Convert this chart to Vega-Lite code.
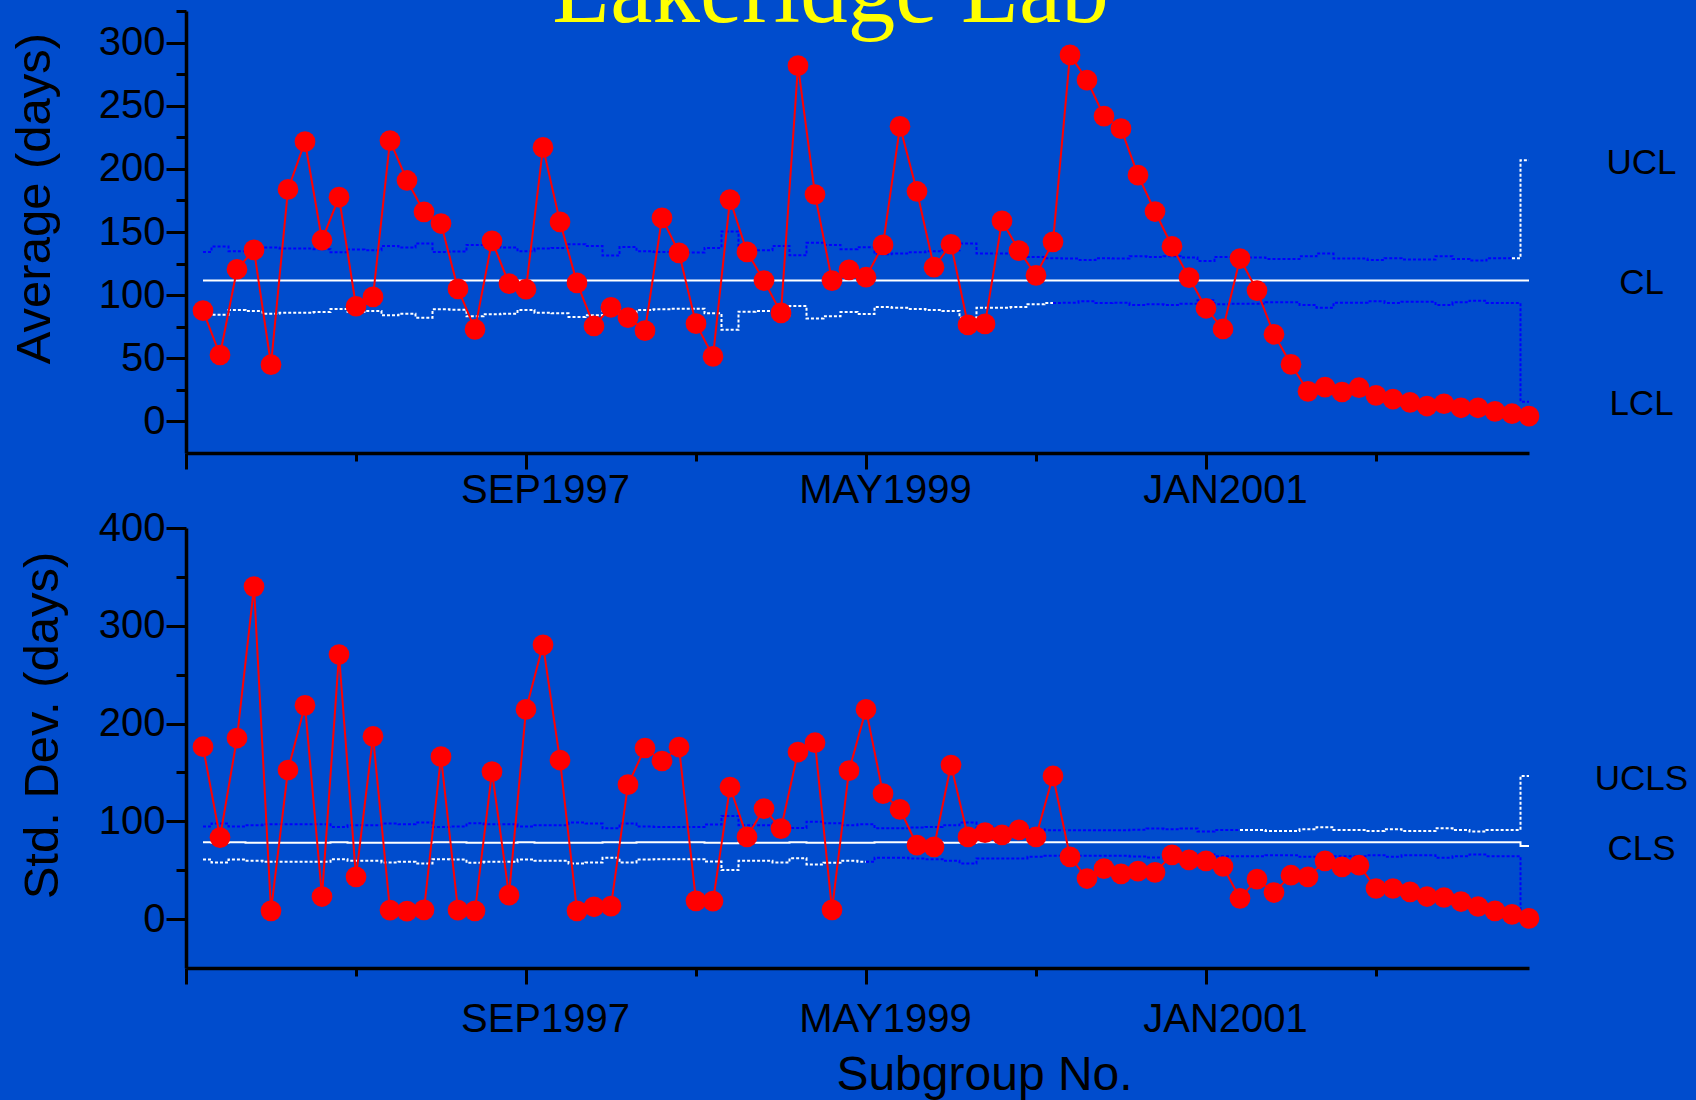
{
  "$schema": "https://vega.github.io/schema/vega-lite/v6.json",
  "background": "#004CCD",
  "padding": {"left": 10, "top": -54, "right": 345, "bottom": 135},
  "title": {"text": "Lakeridge Lab", "font": "Liberation Serif", "fontSize": 95, "fontWeight": "normal", "color": "#ffff00", "anchor": "middle", "frame": "group", "offset": -126, "baseline": "alphabetic", "dx": -27},
  "bounds": "flush",
  "spacing": 75,
  "datasets": {
    "sub": [
      {"i":1,"mean":87.7,"sd":176.3},{"i":2,"mean":52.6,"sd":83.4},{"i":3,"mean":120.5,"sd":185.2},{"i":4,"mean":135.8,"sd":340.1},{"i":5,"mean":44.9,"sd":8.5},
      {"i":6,"mean":183.7,"sd":152.5},{"i":7,"mean":221.5,"sd":218.6},{"i":8,"mean":143.5,"sd":23.1},{"i":9,"mean":177.6,"sd":270.6},{"i":10,"mean":91.2,"sd":43.2},
      {"i":11,"mean":98.6,"sd":186.9},{"i":12,"mean":222.3,"sd":9.2},{"i":13,"mean":190.8,"sd":8.2},{"i":14,"mean":166.0,"sd":9.5},{"i":15,"mean":156.7,"sd":166.1},
      {"i":16,"mean":104.9,"sd":9.2},{"i":17,"mean":72.9,"sd":8.5},{"i":18,"mean":143.0,"sd":150.8},{"i":19,"mean":109.1,"sd":24.5},{"i":20,"mean":104.7,"sd":214.5},
      {"i":21,"mean":217.0,"sd":280.5},{"i":22,"mean":158.0,"sd":162.7},{"i":23,"mean":109.7,"sd":8.5},{"i":24,"mean":75.6,"sd":12.6},{"i":25,"mean":90.4,"sd":13.3},
      {"i":26,"mean":82.2,"sd":137.5},{"i":27,"mean":71.9,"sd":175.0},{"i":28,"mean":161.2,"sd":161.7},{"i":29,"mean":133.5,"sd":176.0},{"i":30,"mean":77.4,"sd":18.7},
      {"i":31,"mean":51.5,"sd":18.4},{"i":32,"mean":175.7,"sd":135.1},{"i":33,"mean":134.2,"sd":84.1},{"i":34,"mean":111.5,"sd":113.0},{"i":35,"mean":85.9,"sd":92.6},
      {"i":36,"mean":281.7,"sd":170.9},{"i":37,"mean":179.7,"sd":180.4},{"i":38,"mean":111.5,"sd":9.5},{"i":39,"mean":120.0,"sd":151.8},{"i":40,"mean":114.2,"sd":214.5},
      {"i":41,"mean":139.8,"sd":128.3},{"i":42,"mean":233.6,"sd":112.3},{"i":43,"mean":182.1,"sd":75.6},{"i":44,"mean":122.1,"sd":73.9},{"i":45,"mean":140.3,"sd":157.6},
      {"i":46,"mean":76.4,"sd":84.1},{"i":47,"mean":77.2,"sd":88.5},{"i":48,"mean":158.8,"sd":86.1},{"i":49,"mean":135.3,"sd":91.2},{"i":50,"mean":115.7,"sd":84.1},
      {"i":51,"mean":142.2,"sd":146.4},{"i":52,"mean":290.2,"sd":63.7},{"i":53,"mean":270.3,"sd":41.5},{"i":54,"mean":241.8,"sd":51.7},{"i":55,"mean":231.8,"sd":46.3},
      {"i":56,"mean":195.0,"sd":49.0},{"i":57,"mean":166.2,"sd":47.7},{"i":58,"mean":138.7,"sd":65.7},{"i":59,"mean":113.9,"sd":60.6},{"i":60,"mean":89.6,"sd":59.6},
      {"i":61,"mean":73.2,"sd":53.8},{"i":62,"mean":129.0,"sd":21.1},{"i":63,"mean":103.6,"sd":40.9},{"i":64,"mean":69.0,"sd":27.2},{"i":65,"mean":45.2,"sd":44.9},
      {"i":66,"mean":23.8,"sd":43.2},{"i":67,"mean":27.2,"sd":59.6},{"i":68,"mean":23.3,"sd":53.4},{"i":69,"mean":26.7,"sd":55.1},{"i":70,"mean":20.6,"sd":31.3},
      {"i":71,"mean":17.7,"sd":31.3},{"i":72,"mean":15.1,"sd":27.9},{"i":73,"mean":12.2,"sd":23.1},{"i":74,"mean":14.0,"sd":22.1},{"i":75,"mean":10.8,"sd":18.0},
      {"i":76,"mean":10.8,"sd":12.9},{"i":77,"mean":7.9,"sd":8.5},{"i":78,"mean":6.1,"sd":4.8},{"i":79,"mean":4.2,"sd":0.7}
    ],
    "lim": [
      {"i":1,"ucl":134.2,"lcl":88.8,"cl":111.5,"ucls":94.6,"lcls":61.0,"cls":78.7},
      {"i":2,"ucl":138.5,"lcl":84.5,"cl":111.5,"ucls":97.7,"lcls":57.9,"cls":78.2},
      {"i":3,"ucl":134.8,"lcl":88.2,"cl":111.5,"ucls":94.6,"lcls":61.0,"cls":78.7},
      {"i":4,"ucl":135.6,"lcl":87.4,"cl":111.5,"ucls":96.0,"lcls":59.6,"cls":78.2},
      {"i":5,"ucl":137.7,"lcl":85.3,"cl":111.5,"ucls":97.0,"lcls":58.6,"cls":78.2},
      {"i":6,"ucl":136.9,"lcl":86.1,"cl":111.5,"ucls":97.0,"lcls":58.6,"cls":78.2},
      {"i":7,"ucl":136.9,"lcl":86.1,"cl":111.5,"ucls":97.0,"lcls":58.6,"cls":78.2},
      {"i":8,"ucl":136.4,"lcl":86.6,"cl":111.5,"ucls":97.0,"lcls":58.6,"cls":78.2},
      {"i":9,"ucl":134.0,"lcl":89.0,"cl":111.5,"ucls":94.3,"lcls":61.3,"cls":78.7},
      {"i":10,"ucl":136.1,"lcl":86.9,"cl":111.5,"ucls":96.0,"lcls":59.6,"cls":78.2},
      {"i":11,"ucl":135.6,"lcl":87.4,"cl":111.5,"ucls":96.0,"lcls":59.6,"cls":78.2},
      {"i":12,"ucl":139.0,"lcl":84.0,"cl":111.5,"ucls":97.7,"lcls":57.9,"cls":78.2},
      {"i":13,"ucl":137.7,"lcl":85.3,"cl":111.5,"ucls":97.0,"lcls":58.6,"cls":78.2},
      {"i":14,"ucl":140.9,"lcl":82.1,"cl":111.5,"ucls":98.7,"lcls":56.9,"cls":78.2},
      {"i":15,"ucl":134.2,"lcl":88.8,"cl":111.5,"ucls":94.3,"lcls":61.3,"cls":78.7},
      {"i":16,"ucl":134.5,"lcl":88.5,"cl":111.5,"ucls":94.6,"lcls":61.0,"cls":78.7},
      {"i":17,"ucl":139.8,"lcl":83.2,"cl":111.5,"ucls":98.0,"lcls":57.6,"cls":78.2},
      {"i":18,"ucl":138.2,"lcl":84.8,"cl":111.5,"ucls":97.0,"lcls":58.6,"cls":78.2},
      {"i":19,"ucl":137.7,"lcl":85.3,"cl":111.5,"ucls":97.0,"lcls":58.6,"cls":78.2},
      {"i":20,"ucl":134.8,"lcl":88.2,"cl":111.5,"ucls":94.6,"lcls":61.0,"cls":78.7},
      {"i":21,"ucl":136.9,"lcl":86.1,"cl":111.5,"ucls":96.0,"lcls":59.6,"cls":78.2},
      {"i":22,"ucl":137.4,"lcl":85.6,"cl":111.5,"ucls":96.0,"lcls":59.6,"cls":78.2},
      {"i":23,"ucl":140.3,"lcl":82.7,"cl":111.5,"ucls":98.7,"lcls":56.9,"cls":78.2},
      {"i":24,"ucl":139.0,"lcl":84.0,"cl":111.5,"ucls":97.7,"lcls":57.9,"cls":78.2},
      {"i":25,"ucl":131.3,"lcl":91.7,"cl":111.5,"ucls":92.9,"lcls":62.7,"cls":78.7},
      {"i":26,"ucl":138.2,"lcl":84.8,"cl":111.5,"ucls":97.7,"lcls":57.9,"cls":78.2},
      {"i":27,"ucl":134.8,"lcl":88.2,"cl":111.5,"ucls":94.6,"lcls":61.0,"cls":78.7},
      {"i":28,"ucl":134.2,"lcl":88.8,"cl":111.5,"ucls":94.3,"lcls":61.3,"cls":78.7},
      {"i":29,"ucl":133.7,"lcl":89.3,"cl":111.5,"ucls":94.3,"lcls":61.3,"cls":78.7},
      {"i":30,"ucl":133.7,"lcl":89.3,"cl":111.5,"ucls":94.3,"lcls":61.3,"cls":78.7},
      {"i":31,"ucl":137.4,"lcl":85.6,"cl":111.5,"ucls":96.7,"lcls":58.9,"cls":78.2},
      {"i":32,"ucl":150.4,"lcl":72.6,"cl":111.5,"ucls":105.5,"lcls":50.1,"cls":77.7},
      {"i":33,"ucl":136.1,"lcl":86.9,"cl":111.5,"ucls":96.0,"lcls":59.6,"cls":78.2},
      {"i":34,"ucl":135.6,"lcl":87.4,"cl":111.5,"ucls":96.0,"lcls":59.6,"cls":78.2},
      {"i":35,"ucl":139.0,"lcl":84.0,"cl":111.5,"ucls":97.7,"lcls":57.9,"cls":78.2},
      {"i":36,"ucl":131.6,"lcl":91.4,"cl":111.5,"ucls":93.3,"lcls":62.3,"cls":78.7},
      {"i":37,"ucl":141.4,"lcl":81.6,"cl":111.5,"ucls":99.7,"lcls":55.9,"cls":78.2},
      {"i":38,"ucl":139.8,"lcl":83.2,"cl":111.5,"ucls":98.0,"lcls":57.6,"cls":78.2},
      {"i":39,"ucl":136.4,"lcl":86.6,"cl":111.5,"ucls":96.0,"lcls":59.6,"cls":78.2},
      {"i":40,"ucl":137.9,"lcl":85.1,"cl":111.5,"ucls":97.0,"lcls":58.6,"cls":78.2},
      {"i":41,"ucl":132.4,"lcl":90.6,"cl":111.5,"ucls":92.9,"lcls":62.7,"cls":78.7},
      {"i":42,"ucl":132.9,"lcl":90.1,"cl":111.5,"ucls":92.9,"lcls":62.7,"cls":78.7},
      {"i":43,"ucl":134.0,"lcl":89.0,"cl":111.5,"ucls":93.6,"lcls":62.0,"cls":78.7},
      {"i":44,"ucl":134.8,"lcl":88.2,"cl":111.5,"ucls":94.3,"lcls":61.3,"cls":78.7},
      {"i":45,"ucl":135.6,"lcl":87.4,"cl":111.5,"ucls":96.0,"lcls":59.6,"cls":78.2},
      {"i":46,"ucl":140.9,"lcl":82.1,"cl":111.5,"ucls":98.7,"lcls":56.9,"cls":78.2},
      {"i":47,"ucl":132.9,"lcl":90.1,"cl":111.5,"ucls":93.6,"lcls":62.0,"cls":78.7},
      {"i":48,"ucl":132.9,"lcl":90.1,"cl":111.5,"ucls":93.6,"lcls":62.0,"cls":78.7},
      {"i":49,"ucl":132.4,"lcl":90.6,"cl":111.5,"ucls":93.6,"lcls":62.0,"cls":78.7},
      {"i":50,"ucl":130.3,"lcl":92.7,"cl":111.5,"ucls":91.9,"lcls":63.7,"cls":78.7},
      {"i":51,"ucl":129.2,"lcl":93.8,"cl":111.5,"ucls":90.9,"lcls":64.7,"cls":78.7},
      {"i":52,"ucl":129.0,"lcl":94.0,"cl":111.5,"ucls":90.9,"lcls":64.7,"cls":78.7},
      {"i":53,"ucl":127.9,"lcl":95.1,"cl":111.5,"ucls":90.9,"lcls":64.7,"cls":78.7},
      {"i":54,"ucl":129.2,"lcl":93.8,"cl":111.5,"ucls":90.9,"lcls":64.7,"cls":78.7},
      {"i":55,"ucl":129.0,"lcl":94.0,"cl":111.5,"ucls":90.9,"lcls":64.7,"cls":78.7},
      {"i":56,"ucl":130.8,"lcl":92.2,"cl":111.5,"ucls":91.5,"lcls":64.1,"cls":78.7},
      {"i":57,"ucl":130.3,"lcl":92.7,"cl":111.5,"ucls":92.6,"lcls":63.0,"cls":78.7},
      {"i":58,"ucl":130.8,"lcl":92.2,"cl":111.5,"ucls":91.9,"lcls":63.7,"cls":78.7},
      {"i":59,"ucl":129.8,"lcl":93.2,"cl":111.5,"ucls":92.6,"lcls":63.0,"cls":78.7},
      {"i":60,"ucl":127.1,"lcl":95.9,"cl":111.5,"ucls":89.5,"lcls":66.1,"cls":78.7},
      {"i":61,"ucl":130.3,"lcl":92.7,"cl":111.5,"ucls":91.2,"lcls":64.4,"cls":78.7},
      {"i":62,"ucl":129.8,"lcl":93.2,"cl":111.5,"ucls":91.2,"lcls":64.4,"cls":78.7},
      {"i":63,"ucl":129.8,"lcl":93.2,"cl":111.5,"ucls":91.2,"lcls":64.4,"cls":78.7},
      {"i":64,"ucl":128.7,"lcl":94.3,"cl":111.5,"ucls":90.2,"lcls":65.4,"cls":78.7},
      {"i":65,"ucl":128.7,"lcl":94.3,"cl":111.5,"ucls":90.2,"lcls":65.4,"cls":78.7},
      {"i":66,"ucl":130.8,"lcl":92.2,"cl":111.5,"ucls":91.9,"lcls":63.7,"cls":78.7},
      {"i":67,"ucl":132.9,"lcl":90.1,"cl":111.5,"ucls":94.0,"lcls":61.6,"cls":78.7},
      {"i":68,"ucl":129.0,"lcl":94.0,"cl":111.5,"ucls":91.2,"lcls":64.4,"cls":78.7},
      {"i":69,"ucl":129.0,"lcl":94.0,"cl":111.5,"ucls":91.2,"lcls":64.4,"cls":78.7},
      {"i":70,"ucl":127.9,"lcl":95.1,"cl":111.5,"ucls":90.2,"lcls":65.4,"cls":78.7},
      {"i":71,"ucl":129.2,"lcl":93.8,"cl":111.5,"ucls":91.9,"lcls":63.7,"cls":78.7},
      {"i":72,"ucl":128.2,"lcl":94.8,"cl":111.5,"ucls":90.2,"lcls":65.4,"cls":78.7},
      {"i":73,"ucl":128.2,"lcl":94.8,"cl":111.5,"ucls":90.2,"lcls":65.4,"cls":78.7},
      {"i":74,"ucl":130.8,"lcl":92.2,"cl":111.5,"ucls":92.9,"lcls":62.7,"cls":78.7},
      {"i":75,"ucl":128.7,"lcl":94.3,"cl":111.5,"ucls":91.2,"lcls":64.4,"cls":78.7},
      {"i":76,"ucl":127.4,"lcl":95.6,"cl":111.5,"ucls":89.5,"lcls":66.1,"cls":78.7},
      {"i":77,"ucl":129.2,"lcl":93.8,"cl":111.5,"ucls":91.2,"lcls":64.4,"cls":78.7},
      {"i":78,"ucl":129.2,"lcl":93.8,"cl":111.5,"ucls":91.2,"lcls":64.4,"cls":78.7},
      {"i":79,"ucl":206.9,"lcl":15.5,"cl":111.5,"ucls":146.4,"lcls":2.4,"cls":74.9}
    ]
  },
  "vconcat": [
    {
      "width": 1343,
      "height": 442,
      "resolve": {"axis": {"y": "independent"}},
      "encoding": {
        "x": {"field": "i", "type": "quantitative", "scale": {"domain": [0, 79], "nice": false, "zero": false},
          "axis": {"values": [0,10,20,30,40,50,60,70], "labelExpr": "datum.value==20?'SEP1997':datum.value==40?'MAY1999':datum.value==60?'JAN2001':''", "tickSize": {"condition": {"test": "datum.value % 20 === 0", "value": 16}, "value": 8}, "labelPadding": 1, "labelOffset": 19, "title": null}}
      },
      "layer": [
        {"data": {"name": "lim"}, "mark": {"type": "line", "interpolate": "step", "color": "#ffffff", "strokeWidth": 2},
         "encoding": {"y": {"field": "cl", "type": "quantitative", "scale": {"domain": [-25, 325], "nice": false, "zero": false},
           "axis": {"orient": "left", "values": [0,25,50,75,100,125,150,175,200,225,250,275,300,325], "labelExpr": "datum.value % 50 === 0 ? datum.label : ''", "tickSize": {"condition": {"test": "datum.value % 50 === 0", "value": 20}, "value": 10}, "labelPadding": 1, "title": "Average (days)", "titleX": -137, "titleY": 187, "titleBaseline": "alphabetic", "titleAngle": 270, "titleAlign": "center"}}}},
        {"data": {"name": "lim"}, "transform": [{"filter": "datum.i <= 78"}], "mark": {"type": "line", "interpolate": "step", "color": "#0000ff", "strokeWidth": 2, "strokeDash": [3, 2]},
         "encoding": {"y": {"field": "ucl", "type": "quantitative", "scale": {"domain": [-25, 325], "nice": false, "zero": false}, "axis": null}}},
        {"data": {"name": "lim"}, "transform": [{"filter": "datum.i >= 78"}], "mark": {"type": "line", "interpolate": "step", "color": "#ffffff", "strokeWidth": 2, "strokeDash": [3, 2]},
         "encoding": {"y": {"field": "ucl", "type": "quantitative", "scale": {"domain": [-25, 325], "nice": false, "zero": false},
           "axis": {"orient": "right", "values": [206.9, 111.5, 15.5], "labelExpr": "datum.value > 200 ? 'UCL' : datum.value > 100 ? 'CL' : 'LCL'", "domain": false, "ticks": false, "tickSize": 0, "labelPadding": 112, "labelAlign": "center", "labelBaseline": "middle", "labelOffset": 2, "labelFontSize": 35, "title": null}}}},
        {"data": {"name": "lim"}, "transform": [{"filter": "datum.i <= 51"}], "mark": {"type": "line", "interpolate": "step", "color": "#ffffff", "strokeWidth": 2, "strokeDash": [3, 2]},
         "encoding": {"y": {"field": "lcl", "type": "quantitative", "scale": {"domain": [-25, 325], "nice": false, "zero": false}, "axis": null}}},
        {"data": {"name": "lim"}, "transform": [{"filter": "datum.i >= 51"}], "mark": {"type": "line", "interpolate": "step", "color": "#0000ff", "strokeWidth": 2, "strokeDash": [3, 2]},
         "encoding": {"y": {"field": "lcl", "type": "quantitative", "scale": {"domain": [-25, 325], "nice": false, "zero": false}, "axis": null}}},
        {"data": {"name": "sub"}, "mark": {"type": "line", "color": "#ff0000", "strokeWidth": 2},
         "encoding": {"y": {"field": "mean", "type": "quantitative", "scale": {"domain": [-25, 325], "nice": false, "zero": false}, "axis": null}}},
        {"data": {"name": "sub"}, "mark": {"type": "circle", "color": "#ff0000", "size": 430, "opacity": 1},
         "encoding": {"y": {"field": "mean", "type": "quantitative", "scale": {"domain": [-25, 325], "nice": false, "zero": false}, "axis": null}}}
      ]
    },
    {
      "width": 1343,
      "height": 440,
      "resolve": {"axis": {"y": "independent"}},
      "encoding": {
        "x": {"field": "i", "type": "quantitative", "scale": {"domain": [0, 79], "nice": false, "zero": false},
          "axis": {"values": [0,10,20,30,40,50,60,70], "labelExpr": "datum.value==20?'SEP1997':datum.value==40?'MAY1999':datum.value==60?'JAN2001':''", "tickSize": {"condition": {"test": "datum.value % 20 === 0", "value": 16}, "value": 8}, "labelPadding": 15, "labelOffset": 19, "title": "Subgroup No.", "titleFontSize": 48, "titleX": 798, "titleY": 121, "titleBaseline": "alphabetic", "titleAlign": "center"}}
      },
      "layer": [
        {"data": {"name": "lim"}, "mark": {"type": "line", "interpolate": "step", "color": "#ffffff", "strokeWidth": 2},
         "encoding": {"y": {"field": "cls", "type": "quantitative", "scale": {"domain": [-50, 400], "nice": false, "zero": false},
           "axis": {"orient": "left", "values": [0,50,100,150,200,250,300,350,400], "labelExpr": "datum.value % 100 === 0 ? datum.label : ''", "tickSize": {"condition": {"test": "datum.value % 100 === 0", "value": 20}, "value": 10}, "labelPadding": 1, "title": "Std. Dev. (days)", "titleX": -129, "titleY": 197, "titleBaseline": "alphabetic", "titleAngle": 270, "titleAlign": "center"}}}},
        {"data": {"name": "lim"}, "transform": [{"filter": "datum.i <= 62"}], "mark": {"type": "line", "interpolate": "step", "color": "#0000ff", "strokeWidth": 2, "strokeDash": [3, 2]},
         "encoding": {"y": {"field": "ucls", "type": "quantitative", "scale": {"domain": [-50, 400], "nice": false, "zero": false}, "axis": null}}},
        {"data": {"name": "lim"}, "transform": [{"filter": "datum.i >= 62"}], "mark": {"type": "line", "interpolate": "step", "color": "#ffffff", "strokeWidth": 2, "strokeDash": [3, 2]},
         "encoding": {"y": {"field": "ucls", "type": "quantitative", "scale": {"domain": [-50, 400], "nice": false, "zero": false},
           "axis": {"orient": "right", "values": [146.4, 74.9], "labelExpr": "datum.value > 100 ? 'UCLS' : 'CLS'", "domain": false, "ticks": false, "tickSize": 0, "labelPadding": 112, "labelAlign": "center", "labelBaseline": "middle", "labelOffset": 3, "labelFontSize": 35, "title": null}}}},
        {"data": {"name": "lim"}, "transform": [{"filter": "datum.i <= 40"}], "mark": {"type": "line", "interpolate": "step", "color": "#ffffff", "strokeWidth": 2, "strokeDash": [3, 2]},
         "encoding": {"y": {"field": "lcls", "type": "quantitative", "scale": {"domain": [-50, 400], "nice": false, "zero": false}, "axis": null}}},
        {"data": {"name": "lim"}, "transform": [{"filter": "datum.i >= 40"}], "mark": {"type": "line", "interpolate": "step", "color": "#0000ff", "strokeWidth": 2, "strokeDash": [3, 2]},
         "encoding": {"y": {"field": "lcls", "type": "quantitative", "scale": {"domain": [-50, 400], "nice": false, "zero": false}, "axis": null}}},
        {"data": {"name": "sub"}, "mark": {"type": "line", "color": "#ff0000", "strokeWidth": 2},
         "encoding": {"y": {"field": "sd", "type": "quantitative", "scale": {"domain": [-50, 400], "nice": false, "zero": false}, "axis": null}}},
        {"data": {"name": "sub"}, "mark": {"type": "circle", "color": "#ff0000", "size": 430, "opacity": 1},
         "encoding": {"y": {"field": "sd", "type": "quantitative", "scale": {"domain": [-50, 400], "nice": false, "zero": false}, "axis": null}}}
      ]
    }
  ],
  "config": {
    "view": {"stroke": null},
    "font": "Liberation Sans",
    "axis": {"domainColor": "#000000", "domainWidth": 3.5, "tickColor": "#000000", "tickWidth": 3, "labelFont": "Liberation Sans", "labelFontSize": 40, "labelColor": "#000000", "titleFont": "Liberation Sans", "titleFontSize": 49, "titleFontWeight": "normal", "titleColor": "#000000", "grid": false, "labelOverlap": false, "labelBound": false, "labelFlush": false}
  }
}
